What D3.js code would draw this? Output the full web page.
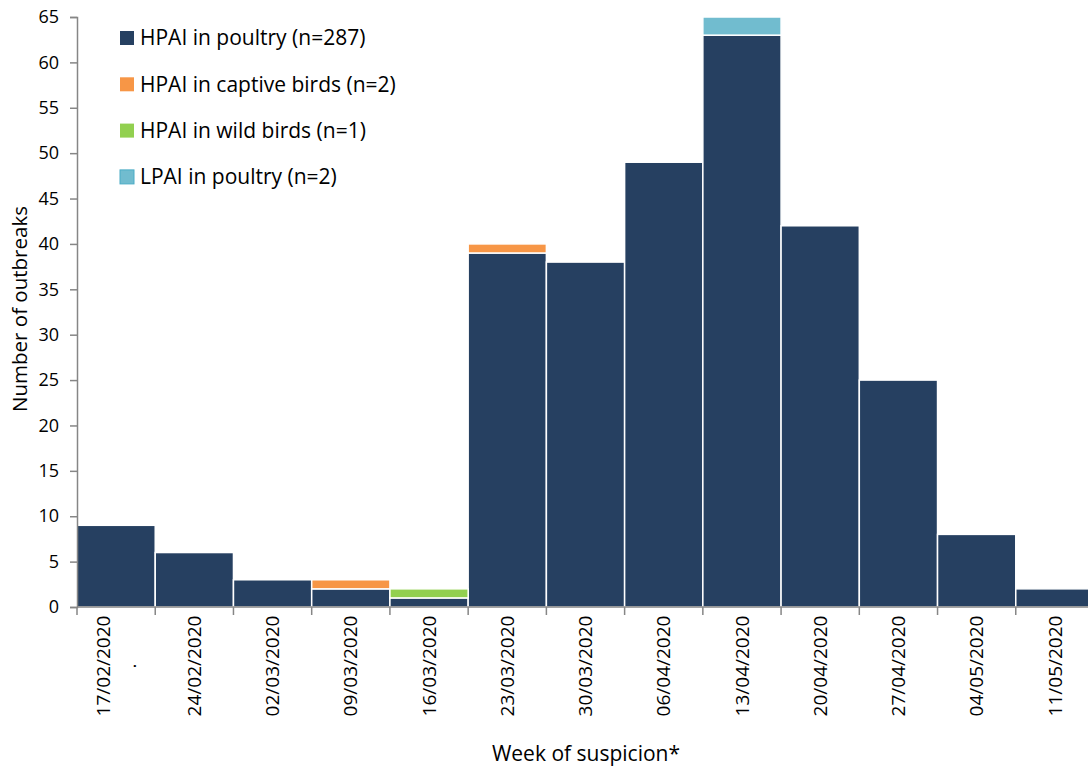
<!DOCTYPE html>
<html><head><meta charset="utf-8">
<script src="https://cdn.jsdelivr.net/npm/d3@7"></script>
<style>body{margin:0;background:#fff}svg{display:block}text{font-family:"Open Sans",Lato,sans-serif;fill:#000}</style>
</head><body><svg id="c" width="1088" height="767"></svg>
<script>
const weeks = ["17/02/2020","24/02/2020","02/03/2020","09/03/2020","16/03/2020","23/03/2020","30/03/2020","06/04/2020","13/04/2020","20/04/2020","27/04/2020","04/05/2020","11/05/2020"];
const hpaiPoultry = [9,6,3,2,1,39,38,49,63,42,25,8,2];
const hpaiCaptive = [0,0,0,1,0,1,0,0,0,0,0,0,0];
const hpaiWild    = [0,0,0,0,1,0,0,0,0,0,0,0,0];
const lpaiPoultry = [0,0,0,0,0,0,0,0,2,0,0,0,0];
const seriesNames = ["HPAI in poultry (n=287)","HPAI in captive birds (n=2)","HPAI in wild birds (n=1)","LPAI in poultry (n=2)"];
const colors = ["#264061","#F79646","#92D050","#71BCCF"];
const yTicks = d3.range(0,66,5);

const FONT = '"Open Sans",Lato,sans-serif';
const svg = d3.select("#c");
const x0 = 77, x1 = 1094, yb = 607, yt = 17;
const x = d3.scaleBand().domain(weeks).range([x0,x1]).padding(0);
const y = d3.scaleLinear().domain([0,65]).range([yb,yt]);

const rows = weeks.map((w,i)=>({week:w, s0:hpaiPoultry[i], s1:hpaiCaptive[i], s2:hpaiWild[i], s3:lpaiPoultry[i]}));
const stack = d3.stack().keys(["s0","s1","s2","s3"])(rows);

stack.forEach((layer,k)=>{
  svg.append("g").selectAll("rect").data(layer.filter(d=>d[1]-d[0]>0)).join("rect")
    .attr("x",d=>x(d.data.week)).attr("width",x.bandwidth())
    .attr("y",d=>y(d[1])).attr("height",d=>y(d[0])-y(d[1]))
    .attr("fill",colors[k]).attr("stroke","#fff").attr("stroke-width",1.5);
});

// y axis
const ya = svg.append("g").attr("transform",`translate(${x0},0)`)
  .call(d3.axisLeft(y).tickValues(yTicks).tickSize(7).tickPadding(11));
ya.select(".domain").attr("stroke","#868686").attr("stroke-width",1.5);
ya.selectAll(".tick line").attr("stroke","#868686").attr("stroke-width",1.5);
ya.selectAll("text").attr("font-size",18).attr("font-family",FONT).attr("fill","#000");

// x axis
const xa = svg.append("g").attr("transform",`translate(0,${yb})`);
xa.append("line").attr("x1",x0).attr("x2",x1).attr("stroke","#868686").attr("stroke-width",1.5);
xa.selectAll("line.t").data(weeks.concat(["_end"])).join("line").attr("class","t")
  .attr("x1",(d,i)=>x0+i*x.bandwidth()).attr("x2",(d,i)=>x0+i*x.bandwidth())
  .attr("y1",0).attr("y2",8).attr("stroke","#868686").attr("stroke-width",1.5);
const lbl = svg.append("g").selectAll("text").data(weeks).join("text")
  .attr("transform",d=>`translate(${x(d)+x.bandwidth()/2},666) rotate(-90)`)
  .attr("text-anchor","middle").attr("font-size",19);
lbl.each(function(d,i){
  const t = d3.select(this);
  if(i===0){
    t.append("tspan").attr("x",0).attr("y",-6).text(d);
    t.append("tspan").attr("x",0).attr("y",20).text(".");
  } else {
    t.append("tspan").attr("x",0).attr("dy","0.35em").text(d);
  }
});

// titles
svg.append("text").attr("x",586).attr("y",761).attr("text-anchor","middle").attr("font-size",21).text("Week of suspicion*");
svg.append("text").attr("transform","translate(27,309) rotate(-90)").attr("text-anchor","middle").attr("font-size",20.5).text("Number of outbreaks");

// legend
const lg = svg.append("g").selectAll("g").data(seriesNames).join("g")
  .attr("transform",(d,i)=>`translate(120,${31+i*46.3})`);
lg.append("rect").attr("width",14).attr("height",14).attr("fill",(d,i)=>colors[i])
  .attr("stroke",(d,i)=>i===3?"#4BACC6":"none").attr("stroke-width",1);
lg.append("text").attr("x",20).attr("y",7).attr("dy","0.35em").attr("font-size",21).text(d=>d);
</script></body></html>
